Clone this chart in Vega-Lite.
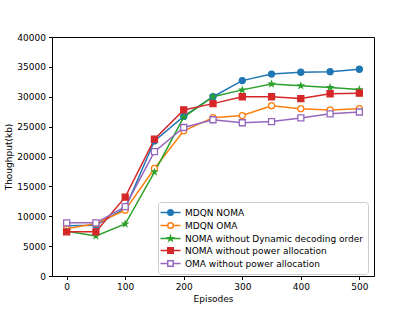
{
  "$schema": "https://vega.github.io/schema/vega-lite/v6.json",
  "width": 322,
  "height": 239,
  "autosize": "none",
  "padding": {"left": 52, "top": 37, "right": 41, "bottom": 35},
  "background": "white",
  "config": {
    "font": "DejaVu Sans",
    "view": {"stroke": "black", "strokeWidth": 1},
    "axis": {
      "grid": false,
      "domainColor": "black",
      "tickColor": "black",
      "tickSize": 3.5,
      "labelColor": "black",
      "labelFontSize": 9,
      "labelPadding": 3,
      "titleFontSize": 9,
      "titleFontWeight": "normal",
      "titleColor": "black"
    }
  },
  "data": {
    "values": [
      {"series": "MDQN NOMA", "episode": 0, "value": 8400},
      {"series": "MDQN NOMA", "episode": 50, "value": 8500},
      {"series": "MDQN NOMA", "episode": 100, "value": 11300},
      {"series": "MDQN NOMA", "episode": 150, "value": 22600},
      {"series": "MDQN NOMA", "episode": 200, "value": 26700},
      {"series": "MDQN NOMA", "episode": 250, "value": 30000},
      {"series": "MDQN NOMA", "episode": 300, "value": 32700},
      {"series": "MDQN NOMA", "episode": 350, "value": 33800},
      {"series": "MDQN NOMA", "episode": 400, "value": 34100},
      {"series": "MDQN NOMA", "episode": 450, "value": 34200},
      {"series": "MDQN NOMA", "episode": 500, "value": 34600},
      {"series": "MDQN OMA", "episode": 0, "value": 7900},
      {"series": "MDQN OMA", "episode": 50, "value": 8800},
      {"series": "MDQN OMA", "episode": 100, "value": 11000},
      {"series": "MDQN OMA", "episode": 150, "value": 18000},
      {"series": "MDQN OMA", "episode": 200, "value": 24300},
      {"series": "MDQN OMA", "episode": 250, "value": 26500},
      {"series": "MDQN OMA", "episode": 300, "value": 26850},
      {"series": "MDQN OMA", "episode": 350, "value": 28500},
      {"series": "MDQN OMA", "episode": 400, "value": 28000},
      {"series": "MDQN OMA", "episode": 450, "value": 27800},
      {"series": "MDQN OMA", "episode": 500, "value": 28000},
      {"series": "NOMA without Dynamic decoding order", "episode": 0, "value": 7500},
      {"series": "NOMA without Dynamic decoding order", "episode": 50, "value": 6700},
      {"series": "NOMA without Dynamic decoding order", "episode": 100, "value": 8700},
      {"series": "NOMA without Dynamic decoding order", "episode": 150, "value": 17400},
      {"series": "NOMA without Dynamic decoding order", "episode": 200, "value": 26600},
      {"series": "NOMA without Dynamic decoding order", "episode": 250, "value": 30000},
      {"series": "NOMA without Dynamic decoding order", "episode": 300, "value": 31150},
      {"series": "NOMA without Dynamic decoding order", "episode": 350, "value": 32150},
      {"series": "NOMA without Dynamic decoding order", "episode": 400, "value": 31850},
      {"series": "NOMA without Dynamic decoding order", "episode": 450, "value": 31550},
      {"series": "NOMA without Dynamic decoding order", "episode": 500, "value": 31200},
      {"series": "NOMA without power allocation", "episode": 0, "value": 7400},
      {"series": "NOMA without power allocation", "episode": 50, "value": 7400},
      {"series": "NOMA without power allocation", "episode": 100, "value": 13200},
      {"series": "NOMA without power allocation", "episode": 150, "value": 22900},
      {"series": "NOMA without power allocation", "episode": 200, "value": 27800},
      {"series": "NOMA without power allocation", "episode": 250, "value": 28850},
      {"series": "NOMA without power allocation", "episode": 300, "value": 30000},
      {"series": "NOMA without power allocation", "episode": 350, "value": 30000},
      {"series": "NOMA without power allocation", "episode": 400, "value": 29700},
      {"series": "NOMA without power allocation", "episode": 450, "value": 30500},
      {"series": "NOMA without power allocation", "episode": 500, "value": 30600},
      {"series": "OMA without power allocation", "episode": 0, "value": 8900},
      {"series": "OMA without power allocation", "episode": 50, "value": 8900},
      {"series": "OMA without power allocation", "episode": 100, "value": 11600},
      {"series": "OMA without power allocation", "episode": 150, "value": 20800},
      {"series": "OMA without power allocation", "episode": 200, "value": 24850},
      {"series": "OMA without power allocation", "episode": 250, "value": 26150},
      {"series": "OMA without power allocation", "episode": 300, "value": 25650},
      {"series": "OMA without power allocation", "episode": 350, "value": 25850},
      {"series": "OMA without power allocation", "episode": 400, "value": 26450},
      {"series": "OMA without power allocation", "episode": 450, "value": 27150},
      {"series": "OMA without power allocation", "episode": 500, "value": 27450}
    ]
  },
  "encoding": {
    "x": {
      "field": "episode", "type": "quantitative",
      "scale": {"domain": [-25, 525], "nice": false, "zero": false},
      "axis": {"values": [0, 100, 200, 300, 400, 500], "title": "Episodes", "titlePadding": 3}
    },
    "y": {
      "field": "value", "type": "quantitative",
      "scale": {"domain": [0, 40000], "nice": false},
      "axis": {"values": [0, 5000, 10000, 15000, 20000, 25000, 30000, 35000, 40000], "format": "d", "title": "Thoughput(kb)", "titlePadding": 3}
    }
  },
  "layer": [
    {
      "mark": {"type": "line", "strokeWidth": 1.5},
      "encoding": {
        "stroke": {
          "field": "series", "type": "nominal",
          "scale": {
            "domain": ["MDQN NOMA", "MDQN OMA", "NOMA without Dynamic decoding order", "NOMA without power allocation", "OMA without power allocation"],
            "range": ["#1f77b4", "#ff7f0e", "#2ca02c", "#d62728", "#9467bd"]
          },
          "legend": null
        }
      }
    },
    {
      "mark": {"type": "point", "filled": true, "opacity": 1, "strokeWidth": 1.3},
      "encoding": {
        "stroke": {
          "field": "series", "type": "nominal",
          "scale": {
            "domain": ["MDQN NOMA", "MDQN OMA", "NOMA without Dynamic decoding order", "NOMA without power allocation", "OMA without power allocation"],
            "range": ["#1f77b4", "#ff7f0e", "#2ca02c", "#d62728", "#9467bd"]
          },
          "legend": null
        },
        "fill": {
          "field": "series", "type": "nominal",
          "scale": {
            "domain": ["MDQN NOMA", "MDQN OMA", "NOMA without Dynamic decoding order", "NOMA without power allocation", "OMA without power allocation"],
            "range": ["#1f77b4", "#ffffff", "#2ca02c", "#d62728", "#ffffff"]
          },
          "legend": null
        },
        "shape": {
          "field": "series", "type": "nominal",
          "scale": {
            "domain": ["MDQN NOMA", "MDQN OMA", "NOMA without Dynamic decoding order", "NOMA without power allocation", "OMA without power allocation"],
            "range": ["circle", "circle", "M0,-0.85L0.191,-0.263L0.808,-0.263L0.309,0.1L0.5,0.688L0,0.325L-0.5,0.688L-0.309,0.1L-0.808,-0.263L-0.191,-0.263Z", "square", "square"]
          },
          "legend": null
        },
        "size": {"value": 36}
      }
    },
    {
      "mark": {"type": "point", "filled": true, "opacity": 0, "strokeWidth": 1.5},
      "encoding": {
        "stroke": {
          "field": "series", "type": "nominal",
          "scale": {
            "domain": ["MDQN NOMA", "MDQN OMA", "NOMA without Dynamic decoding order", "NOMA without power allocation", "OMA without power allocation"],
            "range": ["#1f77b4", "#ff7f0e", "#2ca02c", "#d62728", "#9467bd"]
          },
          "legend": {
            "title": null,
            "orient": "none",
            "legendX": 106,
            "legendY": 165,
            "symbolOpacity": 1,
            "symbolFillColor": "#ffffff",
            "symbolStrokeWidth": 1.5,
            "symbolSize": 121,
            "symbolOffset": 2,
            "labelFontSize": 9,
            "labelColor": "black",
            "labelLimit": 300,
            "labelOffset": 8,
            "rowPadding": 0,
            "padding": 4,
            "fillColor": "white",
            "strokeColor": "#cccccc",
            "cornerRadius": 3
          }
        },
        "fill": {
          "field": "series", "type": "nominal",
          "scale": {
            "domain": ["MDQN NOMA", "MDQN OMA", "NOMA without Dynamic decoding order", "NOMA without power allocation", "OMA without power allocation"],
            "range": ["#1f77b4", "#ffffff", "#2ca02c", "#d62728", "#ffffff"]
          },
          "legend": {"symbolFillColor": "#ffffff", "symbolOpacity": 1}
        },
        "shape": {
          "field": "series", "type": "nominal",
          "scale": {
            "domain": ["MDQN NOMA", "MDQN OMA", "NOMA without Dynamic decoding order", "NOMA without power allocation", "OMA without power allocation"],
            "range": [
              "M-1.82,0H-0.5M0.5,0H1.82M0.5,0A0.5,0.5,0,1,1,-0.5,0A0.5,0.5,0,1,1,0.5,0Z",
              "M-1.82,0H-0.5M0.5,0H1.82M0.5,0A0.5,0.5,0,1,1,-0.5,0A0.5,0.5,0,1,1,0.5,0Z",
              "M-1.82,0H1.82M0,-0.45L0.101,-0.139L0.428,-0.139L0.164,0.053L0.265,0.364L0,0.172L-0.265,0.364L-0.164,0.053L-0.428,-0.139L-0.101,-0.139Z",
              "M-1.82,0H-0.5M0.5,0H1.82M-0.5,-0.5H0.5V0.5H-0.5Z",
              "M-1.82,0H-0.5M0.5,0H1.82M-0.5,-0.5H0.5V0.5H-0.5Z"
            ]
          },
          "legend": {"symbolFillColor": "#ffffff", "symbolOpacity": 1}
        }
      }
    }
  ],
  "resolve": {"scale": {"shape": "independent", "stroke": "independent", "fill": "independent"}}
}
